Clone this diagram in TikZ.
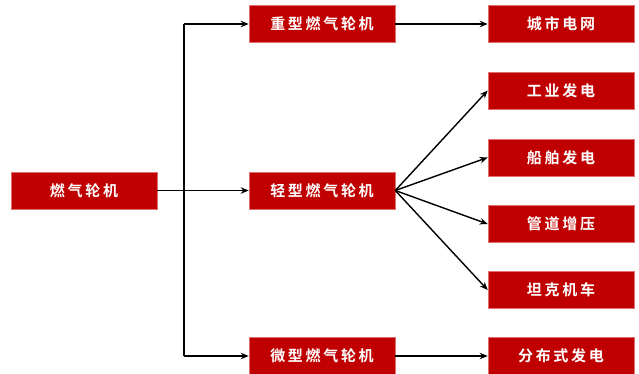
\documentclass[tikz,border=0pt]{standalone}
\usepackage{fontspec}
\newfontfamily\cjk[LetterSpace=18,BoldFont={Noto Sans CJK SC Bold}]{Noto Sans CJK SC}
\usetikzlibrary{arrows.meta}
\definecolor{boxred}{HTML}{C00000}
\definecolor{boxedge}{HTML}{E07070}
\tikzset{
  rbox/.style={draw=boxedge, line width=0.6pt, fill=boxred, text=white, minimum width=146pt, minimum height=37pt, inner sep=0pt, font=\cjk\bfseries\fontsize{15}{15}\selectfont},
  conn/.style={draw=black, line width=1.4pt, -{Stealth[length=8pt,width=6.5pt]}},
  plain/.style={draw=black, line width=1.4pt}
}
\begin{document}
\begin{tikzpicture}[x=1pt,y=-1pt]
\useasboundingbox (0,0) rectangle (639,374);
\node[rbox] (gt) at (84,190.5) {燃气轮机};
\node[rbox] (heavy) at (322,24) {重型燃气轮机};
\node[rbox] (light) at (322,190.5) {轻型燃气轮机};
\node[rbox] (micro) at (322,356) {微型燃气轮机};
\node[rbox] (city) at (561,24) {城市电网};
\node[rbox] (ind) at (561,90.5) {工业发电};
\node[rbox] (ship) at (561,157.5) {船舶发电};
\node[rbox] (pipe) at (561,224) {管道增压};
\node[rbox] (tank) at (561,290) {坦克机车};
\node[rbox] (dist) at (561,356) {分布式发电};
\coordinate (jt) at (184,24);
\coordinate (jb) at (184,356);
\draw[plain] (jt) -- (jb);
\draw[conn] (gt.east) -- (light.west);
\draw[conn] (jt) -- (heavy.west);
\draw[conn] (jb) -- (micro.west);
\draw[conn] (heavy.east) -- (city.west);
\draw[conn] (micro.east) -- (dist.west);
\draw[conn] (light.east) -- (ind.west);
\draw[conn] (light.east) -- (ship.west);
\draw[conn] (light.east) -- (pipe.west);
\draw[conn] (light.east) -- (tank.west);
\end{tikzpicture}
\end{document}
